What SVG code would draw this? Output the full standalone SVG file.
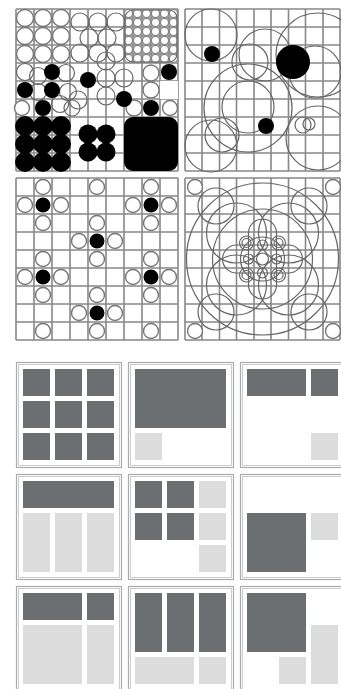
<svg xmlns="http://www.w3.org/2000/svg" width="341" height="689" viewBox="0 0 341 689">
<defs>
<style>
.g{stroke:#888;stroke-width:1.6;fill:none}
.w{fill:#fff;stroke:#777;stroke-width:1.4}
.o{fill:none;stroke:#666;stroke-width:1.2}
.b{fill:#000}
.dk{fill:#6c6f71}
.lt{fill:#dcdcdc}
.fr{fill:#fff;stroke:#aaa;stroke-width:1.2}
.fi{fill:none;stroke:#ccc;stroke-width:1}
</style>
<pattern id="mini" patternUnits="userSpaceOnUse" x="124" y="9" width="9" height="9"><rect width="9" height="9" fill="#fff"/><circle cx="4.5" cy="4.5" r="4" fill="none" stroke="#777" stroke-width="1.1"/></pattern>
</defs>
<rect width="341" height="689" fill="#fff"/>

<g id="panel1">
<rect x="16" y="9" width="162" height="162" fill="#fff"/>
<rect x="124" y="9" width="54" height="54" fill="url(#mini)"/>
<path class="g" d="M16 9V171M34 9V171M52 9V171M70 9V171M88 9V171M106 9V171M124 9V171M142 9V171M160 9V171M178 9V171M16 9H178M16 27H178M16 45H178M16 63H178M16 81H178M16 99H178M16 117H178M16 135H178M16 153H178M16 171H178"/>
<path class="g" d="M133 9V63M151 9V63M169 9V63M124 18H178M124 36H178M124 54H178"/>
<rect x="125" y="10" width="52" height="52" rx="8" class="o"/>
<circle class="w" cx="25" cy="18" r="8.5"/><circle class="w" cx="43" cy="18" r="8.5"/><circle class="w" cx="61" cy="18" r="8.5"/>
<circle class="w" cx="25" cy="36" r="8.5"/><circle class="w" cx="43" cy="36" r="8.5"/><circle class="w" cx="61" cy="36" r="8.5"/>
<circle class="w" cx="25" cy="54" r="8.5"/><circle class="w" cx="43" cy="54" r="8.5"/><circle class="w" cx="61" cy="54" r="8.5"/>
<circle class="o" cx="80" cy="22" r="9"/><circle class="o" cx="98" cy="22" r="9"/><circle class="o" cx="116" cy="22" r="9"/>
<circle class="o" cx="89" cy="38" r="9"/><circle class="o" cx="107" cy="38" r="9"/>
<circle class="o" cx="80" cy="53" r="9"/><circle class="o" cx="98" cy="53" r="9"/><circle class="o" cx="116" cy="53" r="9"/>
<circle class="o" cx="25" cy="72" r="8.5"/><circle class="o" cx="38" cy="76" r="8.5"/><circle class="o" cx="66" cy="73" r="8.5"/>
<circle class="o" cx="38" cy="92" r="8.5"/><circle class="o" cx="68" cy="92" r="8.5"/><circle class="o" cx="60" cy="104" r="8.5"/>
<circle class="w" cx="22" cy="108" r="7.5"/><circle class="o" cx="72" cy="108" r="8"/>
<circle class="o" cx="106" cy="61" r="9"/><circle class="o" cx="106" cy="78" r="9"/><circle class="o" cx="124" cy="78" r="9"/>
<circle class="o" cx="106" cy="96" r="9"/><circle class="o" cx="78" cy="100" r="9"/>
<rect x="160" y="81" width="18" height="18" fill="#fff"/>
<circle class="w" cx="151" cy="73" r="8"/><circle class="w" cx="151" cy="90" r="8"/>
<circle class="w" cx="134" cy="108" r="8"/><circle class="w" cx="170" cy="108" r="7.5"/>
<circle class="b" cx="52" cy="72" r="8"/><circle class="b" cx="25" cy="90" r="8"/><circle class="b" cx="52" cy="90" r="8"/>
<circle class="b" cx="43" cy="108" r="8"/><circle class="b" cx="88" cy="80" r="8"/><circle class="b" cx="124" cy="99" r="8"/>
<circle class="b" cx="169" cy="72" r="8"/><circle class="b" cx="151" cy="108" r="8"/>
<circle class="b" cx="25" cy="126" r="10"/><circle class="b" cx="43" cy="126" r="10"/><circle class="b" cx="61" cy="126" r="10"/>
<circle class="b" cx="25" cy="144" r="10"/><circle class="b" cx="43" cy="144" r="10"/><circle class="b" cx="61" cy="144" r="10"/>
<circle class="b" cx="25" cy="162" r="10"/><circle class="b" cx="43" cy="162" r="10"/><circle class="b" cx="61" cy="162" r="10"/>
<circle class="b" cx="88" cy="134" r="9.5"/><circle class="b" cx="106" cy="134" r="9.5"/>
<circle class="b" cx="88" cy="152" r="9.5"/><circle class="b" cx="106" cy="152" r="9.5"/>
<rect class="b" x="124" y="117" width="54" height="54" rx="9"/>
</g>

<g id="panel2">
<rect x="185" y="9" width="155" height="162" fill="#fff"/>
<path class="g" d="M185 9V171M202 9V171M219.5 9V171M236.5 9V171M254 9V171M271 9V171M288.5 9V171M305.5 9V171M323 9V171M340 9V171M185 9H340M185 27H340M185 45H340M185 63H340M185 81H340M185 99H340M185 117H340M185 135H340M185 153H340M185 171H340"/>
<circle class="o" cx="211" cy="35" r="26"/>
<circle class="o" cx="250" cy="62" r="18"/>
<circle class="o" cx="265" cy="55" r="26"/>
<circle class="o" cx="318" cy="55" r="42"/>
<circle class="o" cx="315" cy="72" r="26"/>
<circle class="o" cx="248" cy="108" r="44"/>
<circle class="o" cx="248" cy="107" r="26"/>
<circle class="o" cx="211" cy="146" r="26"/>
<circle class="o" cx="222" cy="135" r="17"/>
<circle class="o" cx="318" cy="138" r="32"/>
<circle class="o" cx="303" cy="125" r="8"/>
<circle class="o" cx="309" cy="124" r="6"/>
<circle class="b" cx="212" cy="54" r="8"/>
<circle class="b" cx="293" cy="62" r="17"/>
<circle class="b" cx="266" cy="126" r="8"/>
</g>

<g id="panel3">
<rect x="16" y="178" width="162" height="162" fill="#fff"/>
<path class="g" d="M16 178V340M34 178V340M52 178V340M70 178V340M88 178V340M106 178V340M124 178V340M142 178V340M160 178V340M178 178V340M16 178H178M16 196H178M16 214H178M16 232H178M16 250H178M16 268H178M16 286H178M16 304H178M16 322H178M16 340H178"/>
<circle class="w" cx="43" cy="187" r="7.5"/><circle class="w" cx="25" cy="205" r="7.5"/><circle class="w" cx="61" cy="205" r="7.5"/><circle class="w" cx="43" cy="223" r="7.5"/>
<circle class="w" cx="151" cy="187" r="7.5"/><circle class="w" cx="133" cy="205" r="7.5"/><circle class="w" cx="169" cy="205" r="7.5"/><circle class="w" cx="151" cy="223" r="7.5"/>
<circle class="w" cx="97" cy="187" r="7.5"/>
<circle class="w" cx="97" cy="223" r="7.5"/><circle class="w" cx="79" cy="241" r="7.5"/><circle class="w" cx="115" cy="241" r="7.5"/><circle class="w" cx="97" cy="259" r="7.5"/>
<circle class="w" cx="43" cy="259" r="7.5"/><circle class="w" cx="25" cy="277" r="7.5"/><circle class="w" cx="61" cy="277" r="7.5"/><circle class="w" cx="43" cy="295" r="7.5"/>
<circle class="w" cx="151" cy="259" r="7.5"/><circle class="w" cx="133" cy="277" r="7.5"/><circle class="w" cx="169" cy="277" r="7.5"/><circle class="w" cx="151" cy="295" r="7.5"/>
<circle class="w" cx="97" cy="295" r="7.5"/><circle class="w" cx="79" cy="313" r="7.5"/><circle class="w" cx="115" cy="313" r="7.5"/><circle class="w" cx="97" cy="331" r="7.5"/>
<circle class="w" cx="43" cy="331" r="7.5"/><circle class="w" cx="151" cy="331" r="7.5"/>
<circle class="b" cx="43" cy="205" r="7.5"/><circle class="b" cx="151" cy="205" r="7.5"/><circle class="b" cx="97" cy="241" r="7.5"/>
<circle class="b" cx="43" cy="277" r="7.5"/><circle class="b" cx="151" cy="277" r="7.5"/><circle class="b" cx="97" cy="313" r="7.5"/>
</g>

<g id="panel4">
<rect x="185" y="178" width="155" height="162" fill="#fff"/>
<path class="g" d="M185 178V340M202 178V340M219.5 178V340M236.5 178V340M254 178V340M271 178V340M288.5 178V340M305.5 178V340M323 178V340M340 178V340M185 178H340M185 196H340M185 214H340M185 232H340M185 250H340M185 268H340M185 286H340M185 304H340M185 322H340M185 340H340"/>
<circle class="o" cx="262.5" cy="259" r="76"/>
<circle class="o" cx="262.5" cy="259" r="50"/>
<circle class="o" cx="236.5" cy="233" r="30"/><circle class="o" cx="288.5" cy="233" r="30"/>
<circle class="o" cx="236.5" cy="285" r="30"/><circle class="o" cx="288.5" cy="285" r="30"/>
<circle class="o" cx="216" cy="206" r="18"/><circle class="o" cx="309" cy="206" r="18"/>
<circle class="o" cx="216" cy="312" r="18"/><circle class="o" cx="309" cy="312" r="18"/>
<rect class="o" x="222.5" y="245" width="80" height="28" rx="14"/>
<rect class="o" x="248.5" y="219" width="28" height="80" rx="14"/>
<circle class="o" cx="262.5" cy="259" r="22"/>
<circle class="o" cx="246.5" cy="243" r="7"/><circle class="o" cx="246.5" cy="243" r="4.5"/>
<circle class="o" cx="278.5" cy="243" r="7"/><circle class="o" cx="278.5" cy="243" r="4.5"/>
<circle class="o" cx="246.5" cy="275" r="7"/><circle class="o" cx="246.5" cy="275" r="4.5"/>
<circle class="o" cx="278.5" cy="275" r="7"/><circle class="o" cx="278.5" cy="275" r="4.5"/>
<circle class="o" cx="262.5" cy="245" r="5"/><circle class="o" cx="262.5" cy="273" r="5"/>
<circle class="o" cx="248.5" cy="259" r="5"/><circle class="o" cx="276.5" cy="259" r="5"/>
<circle class="o" cx="262.5" cy="259" r="6"/>
<circle class="w" cx="195" cy="187" r="7.5"/><circle class="w" cx="195" cy="331" r="7.5"/>
<circle class="w" cx="333" cy="187" r="7.5"/><circle class="w" cx="333" cy="331" r="7.5"/>
</g>

<g id="frame1" transform="translate(16,362)">
<rect class="fr" x="0.5" y="0.5" width="105" height="105"/><rect class="fi" x="2.5" y="2.5" width="101" height="101"/>
<rect class="dk" x="7" y="7" width="27" height="27"/><rect class="dk" x="39" y="7" width="27" height="27"/><rect class="dk" x="71" y="7" width="27" height="27"/>
<rect class="dk" x="7" y="39" width="27" height="27"/><rect class="dk" x="39" y="39" width="27" height="27"/><rect class="dk" x="71" y="39" width="27" height="27"/>
<rect class="dk" x="7" y="71" width="27" height="27"/><rect class="dk" x="39" y="71" width="27" height="27"/><rect class="dk" x="71" y="71" width="27" height="27"/>
</g>
<g id="frame2" transform="translate(128,362)">
<rect class="fr" x="0.5" y="0.5" width="105" height="105"/><rect class="fi" x="2.5" y="2.5" width="101" height="101"/>
<rect class="dk" x="7" y="7" width="91" height="59"/>
<rect class="lt" x="7" y="71" width="27" height="27"/>
</g>
<g id="frame3" transform="translate(240,362)">
<rect class="fr" x="0.5" y="0.5" width="105" height="105"/><rect class="fi" x="2.5" y="2.5" width="101" height="101"/>
<rect class="dk" x="7" y="7" width="59" height="27"/><rect class="dk" x="71" y="7" width="27" height="27"/>
<rect class="lt" x="71" y="71" width="27" height="27"/>
</g>
<g id="frame4" transform="translate(16,474)">
<rect class="fr" x="0.5" y="0.5" width="105" height="105"/><rect class="fi" x="2.5" y="2.5" width="101" height="101"/>
<rect class="dk" x="7" y="7" width="91" height="27"/>
<rect class="lt" x="7" y="39" width="27" height="59"/><rect class="lt" x="39" y="39" width="27" height="59"/><rect class="lt" x="71" y="39" width="27" height="59"/>
</g>
<g id="frame5" transform="translate(128,474)">
<rect class="fr" x="0.5" y="0.5" width="105" height="105"/><rect class="fi" x="2.5" y="2.5" width="101" height="101"/>
<rect class="dk" x="7" y="7" width="27" height="27"/><rect class="dk" x="39" y="7" width="27" height="27"/>
<rect class="dk" x="7" y="39" width="27" height="27"/><rect class="dk" x="39" y="39" width="27" height="27"/>
<rect class="lt" x="71" y="7" width="27" height="27"/><rect class="lt" x="71" y="39" width="27" height="27"/><rect class="lt" x="71" y="71" width="27" height="27"/>
</g>
<g id="frame6" transform="translate(240,474)">
<rect class="fr" x="0.5" y="0.5" width="105" height="105"/><rect class="fi" x="2.5" y="2.5" width="101" height="101"/>
<rect class="dk" x="7" y="39" width="59" height="59"/>
<rect class="lt" x="71" y="39" width="27" height="27"/>
</g>
<g id="frame7" transform="translate(16,586)">
<rect class="fr" x="0.5" y="0.5" width="105" height="105"/><rect class="fi" x="2.5" y="2.5" width="101" height="101"/>
<rect class="dk" x="7" y="7" width="59" height="27"/><rect class="dk" x="71" y="7" width="27" height="27"/>
<rect class="lt" x="7" y="39" width="59" height="59"/><rect class="lt" x="71" y="39" width="27" height="59"/>
</g>
<g id="frame8" transform="translate(128,586)">
<rect class="fr" x="0.5" y="0.5" width="105" height="105"/><rect class="fi" x="2.5" y="2.5" width="101" height="101"/>
<rect class="dk" x="7" y="7" width="27" height="59"/><rect class="dk" x="39" y="7" width="27" height="59"/><rect class="dk" x="71" y="7" width="27" height="59"/>
<rect class="lt" x="7" y="71" width="59" height="27"/><rect class="lt" x="71" y="71" width="27" height="27"/>
</g>
<g id="frame9" transform="translate(240,586)">
<rect class="fr" x="0.5" y="0.5" width="105" height="105"/><rect class="fi" x="2.5" y="2.5" width="101" height="101"/>
<rect class="dk" x="7" y="7" width="59" height="59"/>
<rect class="lt" x="71" y="39" width="27" height="59"/><rect class="lt" x="39" y="71" width="27" height="27"/>
</g>
<g id="connectors"/>
</svg>
